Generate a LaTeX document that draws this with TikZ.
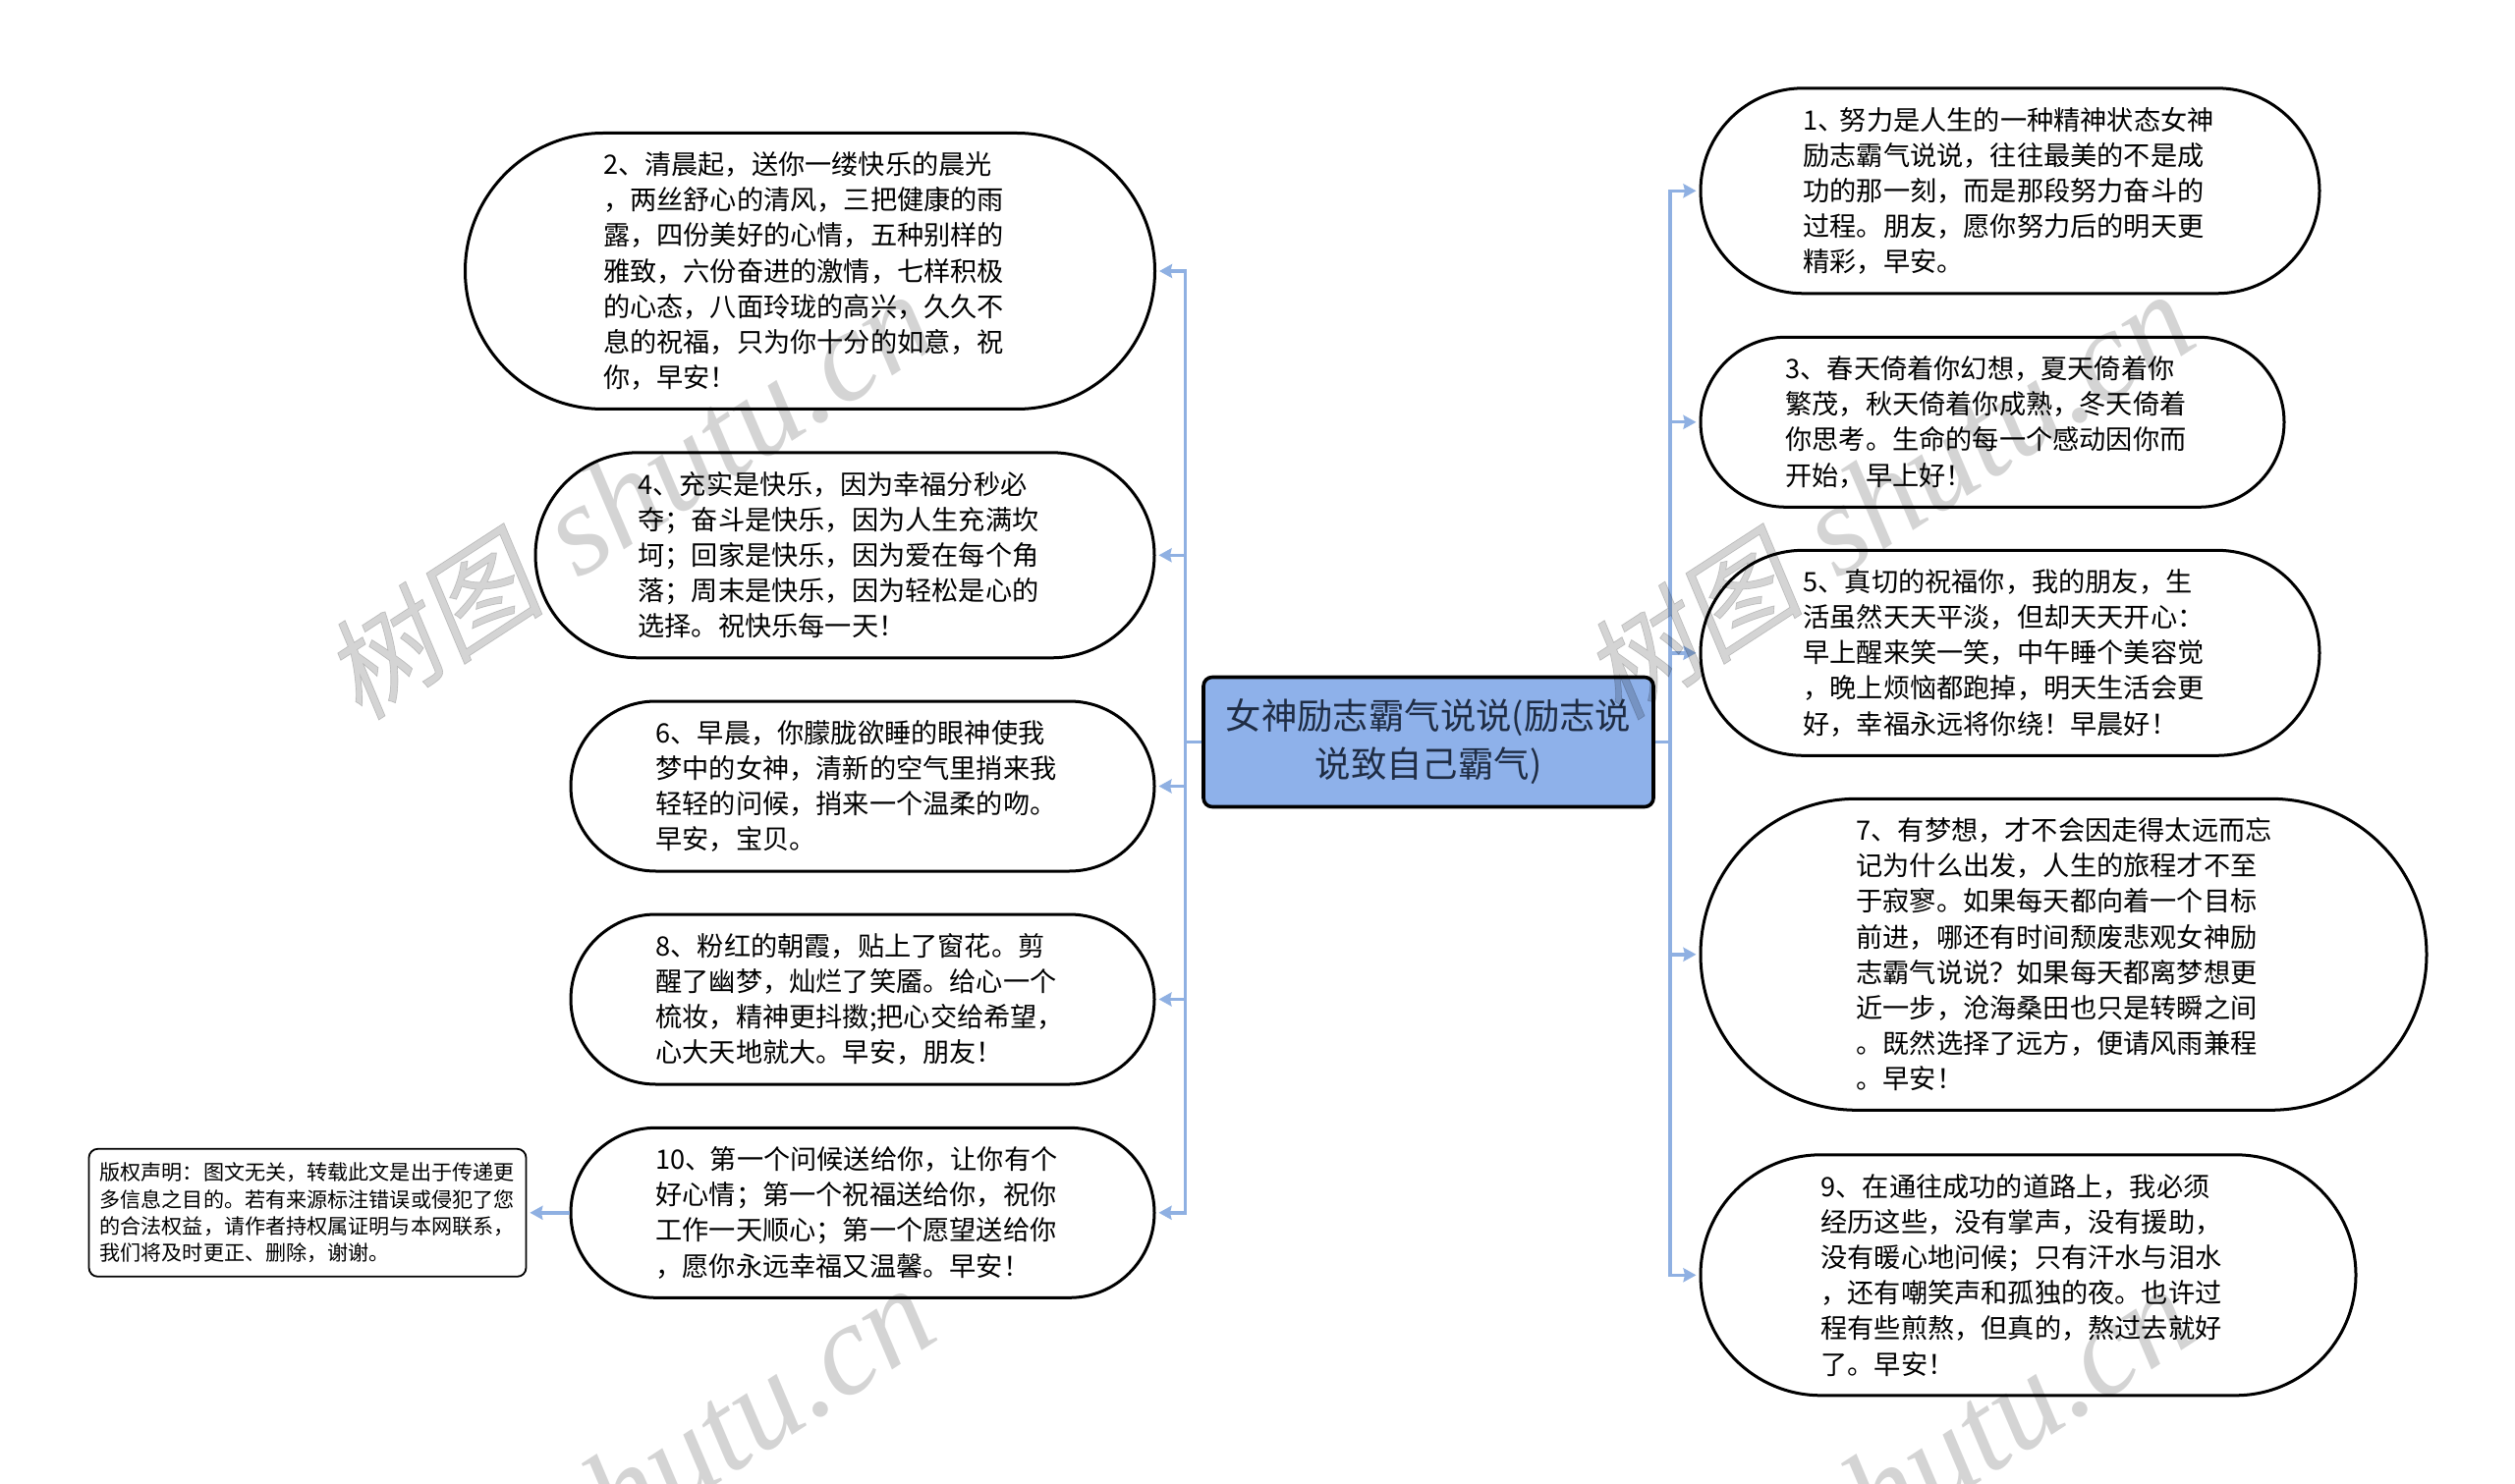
\documentclass[tikz,border=0pt]{standalone}
\usepackage{fontspec}
\setmainfont{Noto Sans CJK SC}
\newfontfamily\wmcjk[FakeSlant=0.18,FakeBold=0.6]{Noto Sans CJK SC}
\newfontfamily\wmlat{Liberation Serif}
\usetikzlibrary{arrows.meta}
\definecolor{linkblue}{HTML}{8FB0E2}
\definecolor{rootfill}{HTML}{8EB1EA}
\definecolor{roottext}{HTML}{1F2D45}
\tikzset{
  pill/.style n args={2}{draw=black,line width=3pt,fill=white,inner sep=0pt,align=left,
    minimum width=#1pt,minimum height=#2pt,text width={(#1-#2)*1pt},rounded corners={(#2/2)*1pt},
    font=\fontsize{27.2}{36.15}\selectfont,anchor=center},
  rootbox/.style={draw=black,line width=3.6pt,fill=rootfill,rounded corners=9pt,inner sep=0pt,align=center,
    minimum width=458pt,minimum height=132pt,text=roottext,font=\fontsize{36.4}{49}\selectfont},
  notebox/.style={draw=black,line width=1.8pt,fill=white,rounded corners=9pt,inner sep=0pt,align=left,
    minimum width=445pt,minimum height=130pt,text width=423pt,font=\fontsize{21.1}{27.2}\selectfont},
  link/.style={draw=linkblue,line width=3.4pt,-{Stealth[length=13pt,width=14pt,inset=1.5pt]},shorten >=3pt},
  wmtext/.style={text=black,opacity=.17,rotate=33,inner sep=0pt}
}
\newcommand{\wmark}{{\fontsize{113}{113}\selectfont\wmcjk 树图}\hspace{38pt}{\fontsize{132}{132}\selectfont\wmlat\itshape shutu.cn}}
\begin{document}
\begin{tikzpicture}[x=1pt,y=-1pt]
\clip (0,0) rectangle (2560,1511);
\fill[white] (0,0) rectangle (2560,1511);

\node[rootbox] (root) at (1454,755.5) {女神励志霸气说说(励志说\\说致自己霸气)};

\node[pill={630}{209}] (n1) at (2046,194.3) {1、\kern-5pt努力是人生的一种精神状态女神\\励志霸气说说，往往最美的不是成\\功的那一刻，而是那段努力奋斗的\\过程。朋友，愿你努力后的明天更\\精彩，早安。};
\node[pill={594}{173}] (n3) at (2028,429.8) {3、春天倚着你幻想，夏天倚着你\\繁茂，秋天倚着你成熟，冬天倚着\\你思考。生命的每一个感动因你而\\开始，早上好！};
\node[pill={630}{209}] (n5) at (2046,664.8) {5、真切的祝福你，我的朋友，生\\活虽然天天平淡，但却天天开心：\\早上醒来笑一笑，中午睡个美容觉\\，晚上烦恼都跑掉，明天生活会更\\好，幸福永远将你绕！早晨好！};
\node[pill={739}{317}] (n7) at (2100.5,971.8) {7、有梦想，才不会因走得太远而忘\\记为什么出发，人生的旅程才不至\\于寂寥。如果每天都向着一个目标\\前进，哪还有时间颓废悲观女神励\\志霸气说说？如果每天都离梦想更\\近一步，沧海桑田也只是转瞬之间\\。既然选择了远方，便请风雨兼程\\。早安！};
\node[pill={667}{245}] (n9) at (2064.5,1298.3) {9、在通往成功的道路上，我必须\\经历这些，没有掌声，没有援助，\\没有暖心地问候；只有汗水与泪水\\，还有嘲笑声和孤独的夜。也许过\\程有些煎熬，但真的，熬过去就好\\了。早安！};

\node[pill={702}{281}] (n2) at (824.5,276) {2、清晨起，送你一缕快乐的晨光\\，两丝舒心的清风，三把健康的雨\\露，四份美好的心情，五种别样的\\雅致，六份奋进的激情，七样积极\\的心态，八面玲珑的高兴，久久不\\息的祝福，只为你十分的如意，祝\\你，早安！};
\node[pill={630}{209}] (n4) at (860,565.3) {4、充实是快乐，因为幸福分秒必\\夺；奋斗是快乐，因为人生充满坎\\坷；回家是快乐，因为爱在每个角\\落；周末是快乐，因为轻松是心的\\选择。祝快乐每一天！};
\node[pill={594}{173}] (n6) at (878,800.5) {6、早晨，你朦胧欲睡的眼神使我\\梦中的女神，清新的空气里捎来我\\轻轻的问候，捎来一个温柔的吻。\\早安，宝贝。};
\node[pill={594}{173}] (n8) at (878,1017.5) {8、粉红的朝霞，贴上了窗花。剪\\醒了幽梦，灿烂了笑靥。给心一个\\梳妆，精神更抖擞;把心交给希望，\\心大天地就大。早安，朋友！};
\node[pill={594}{173}] (n10) at (878,1234.8) {10、\kern-2pt第一个问候送给你，让你有个\\好心情；第一个祝福送给你，祝你\\工作一天顺心；第一个愿望送给你\\，愿你永远幸福又温馨。早安！};
\node[notebox] (note) at (313,1234.8) {版权声明：图文无关，转载此文是出于传递更\\多信息之目的。若有来源标注错误或侵犯了您\\的合法权益，请作者持权属证明与本网联系，\\我们将及时更正、删除，谢谢。};

\foreach \t in {n2,n4,n6,n8,n10}
  \draw[link] (root.west) -- ++(-16.5,0) |- (\t.east);
\foreach \t in {n1,n3,n5,n7,n9}
  \draw[link] (root.east) -- ++(15,0) |- (\t.west);
\draw[link] (n10.west) -- (note.east);

\node[wmtext] (w1) at (640,506) {\wmark};
\node[wmtext] (w2) at (1922,506) {\wmark};
\node[wmtext] (w3) at (640,1518) {\wmark};
\node[wmtext] (w4) at (1922,1518) {\wmark};
\end{tikzpicture}
\end{document}
